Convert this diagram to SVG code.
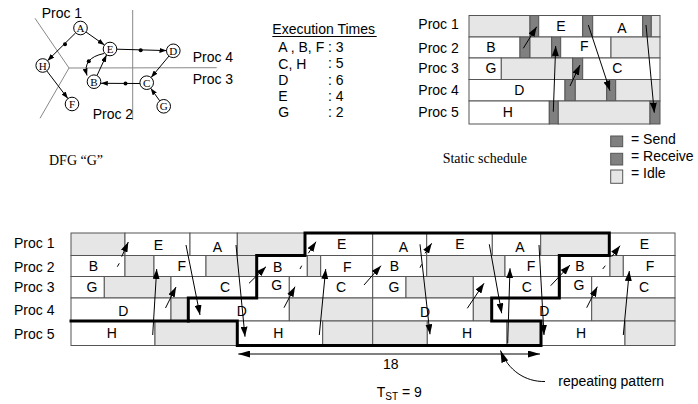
<svg xmlns="http://www.w3.org/2000/svg" width="698" height="404" viewBox="0 0 698 404">
<defs>
<style>
.t{font-family:"Liberation Sans",Arial,Helvetica,sans-serif;font-size:14px;fill:#000}
.m{text-anchor:middle}
.sf{font-family:"Liberation Serif","Times New Roman",serif;fill:#000}
.w{fill:#fff;stroke:#555;stroke-width:1}
.g{fill:#e6e6e6;stroke:#555;stroke-width:1}
.k{fill:#808080;stroke:#555;stroke-width:1}
.ar{fill:none;stroke:#000;stroke-width:1;marker-end:url(#ah)}
.as{fill:none;stroke:#000;stroke-width:1;marker-end:url(#ahs)}
.ln{fill:none;stroke:#000;stroke-width:1}
.pl{fill:none;stroke:#888;stroke-width:1}
.nd{fill:#fff;stroke:#000;stroke-width:1}
.dot{fill:#000}
.thick{fill:none;stroke:#000;stroke-width:3;stroke-linejoin:miter;stroke-linecap:square}
</style>
<marker id="ah" markerUnits="userSpaceOnUse" markerWidth="10" markerHeight="7" refX="10" refY="3.5" orient="auto"><path d="M0,0 L10,3.5 L0,7 z" fill="#000"/></marker>
<marker id="ahs" markerUnits="userSpaceOnUse" markerWidth="7" markerHeight="5" refX="7" refY="2.5" orient="auto"><path d="M0,0 L7,2.5 L0,5 z" fill="#000"/></marker>
<marker id="ahd" markerUnits="userSpaceOnUse" markerWidth="12" markerHeight="7" refX="12" refY="3.5" orient="auto-start-reverse"><path d="M0,0 L12,3.5 L0,7 z" fill="#000"/></marker>
</defs>
<rect width="698" height="404" fill="#fff"/>

<!-- DFG -->
<g id="dfg-partitions">
<path class="pl" d="M35,18.3 L69,68 L40,118.3 M69,68 L216.7,67.7 M132.7,10 L132.7,120"/>
</g>
<g id="dfg-labels" class="t">
<text x="41.7" y="17.5">Proc 1</text>
<text x="192.7" y="61.7">Proc 4</text>
<text x="192.7" y="84">Proc 3</text>
<text x="92.7" y="119.3">Proc 2</text>
</g>
<g id="dfg-connectors">
<path class="as" d="M86,32 L104.5,45"/>
<path class="as" d="M75.7,32.8 L47.5,60.7"/>
<path class="as" d="M46.8,70.9 L67.9,98.6"/>
<path class="as" d="M116.8,49.2 L166.5,50.6"/>
<path class="as" d="M169,56 L151.1,77.5"/>
<path class="as" d="M159.7,100.8 L150.7,88.2"/>
<path class="as" d="M139.9,83.5 L100.8,83.3"/>
<path class="as" d="M97,75.5 L106.5,55"/>
<path class="as" d="M104,53.5 Q82,58 87,75.5"/>
<circle class="dot" cx="65" cy="44.3" r="2"/>
<circle class="dot" cx="140.7" cy="50.3" r="2"/>
<circle class="dot" cx="125.5" cy="83.5" r="2"/>
<circle class="dot" cx="88.8" cy="61.3" r="2"/>
</g>
<g id="node-A"><circle class="nd" cx="80.5" cy="28" r="6.8"/><text class="sf m" x="80.5" y="32" font-size="11">A</text></g>
<g id="node-E"><circle class="nd" cx="110" cy="49" r="6.8"/><text class="sf m" x="110" y="53" font-size="11">E</text></g>
<g id="node-D"><circle class="nd" cx="173.3" cy="50.8" r="6.8"/><text class="sf m" x="173.3" y="54.8" font-size="11">D</text></g>
<g id="node-H"><circle class="nd" cx="42.7" cy="65.5" r="6.8"/><text class="sf m" x="42.7" y="69.5" font-size="11">H</text></g>
<g id="node-B"><circle class="nd" cx="94" cy="81.7" r="6.8"/><text class="sf m" x="94" y="85.7" font-size="11">B</text></g>
<g id="node-C"><circle class="nd" cx="146.7" cy="82.7" r="6.8"/><text class="sf m" x="146.7" y="86.7" font-size="11">C</text></g>
<g id="node-F"><circle class="nd" cx="72" cy="104" r="6.8"/><text class="sf m" x="72" y="108" font-size="11">F</text></g>
<g id="node-G"><circle class="nd" cx="163.7" cy="106.3" r="6.8"/><text class="sf m" x="163.7" y="110.3" font-size="11">G</text></g>
<text class="sf" x="49" y="165" font-size="14">DFG “G”</text>

<!-- Execution times -->
<g id="exec-times" class="t">
<text x="272.3" y="34">Execution Times</text>
<line x1="272.3" y1="36.5" x2="376.7" y2="36.5" stroke="#000" stroke-width="1"/>
<text x="278.3" y="52.3">A , B, F : 3</text>
<text x="278.3" y="68.8">C, H</text><text x="328" y="68.3">: 5</text>
<text x="278.3" y="85">D</text><text x="328" y="85">: 6</text>
<text x="278.3" y="100.8">E</text><text x="328" y="100.8">: 4</text>
<text x="278.3" y="117.3">G</text><text x="328" y="117.3">: 2</text>
</g>

<!-- Static schedule -->
<g id="static-schedule">
<rect class="g" x="469" y="15.5" width="61" height="21.5"/>
<rect class="k" x="530" y="15.5" width="8.7" height="21.5"/>
<rect class="w" x="538.7" y="15.5" width="44" height="21.5"/>
<rect class="k" x="582.7" y="15.5" width="10" height="21.5"/>
<rect class="w" x="592.7" y="15.5" width="50" height="21.5"/>
<rect class="k" x="642.7" y="15.5" width="8.6" height="21.5"/>
<rect class="g" x="651.3" y="15.5" width="8.7" height="21.5"/>

<rect class="w" x="469" y="37" width="51" height="21"/>
<rect class="k" x="520" y="37" width="10" height="21"/>
<rect class="g" x="530" y="37" width="21.7" height="21"/>
<rect class="k" x="551.7" y="37" width="9" height="21"/>
<rect class="w" x="560.7" y="37" width="50.3" height="21"/>
<rect class="g" x="611" y="37" width="49" height="21"/>

<rect class="w" x="469" y="58" width="32.3" height="21.5"/>
<rect class="g" x="501.3" y="58" width="71.4" height="21.5"/>
<rect class="k" x="572.7" y="58" width="10" height="21.5"/>
<rect class="w" x="582.7" y="58" width="77.3" height="21.5"/>

<rect class="w" x="469" y="79.5" width="96" height="21.5"/>
<rect class="k" x="565" y="79.5" width="10.3" height="21.5"/>
<rect class="g" x="575.3" y="79.5" width="31.4" height="21.5"/>
<rect class="k" x="606.7" y="79.5" width="9" height="21.5"/>
<rect class="g" x="615.7" y="79.5" width="44.3" height="21.5"/>

<rect class="w" x="469" y="101" width="80.3" height="23"/>
<rect class="k" x="549.3" y="101" width="9" height="23"/>
<rect class="g" x="558.3" y="101" width="91.7" height="23"/>
<rect class="k" x="650" y="101" width="10" height="23"/>

<path class="ar" d="M523.3,48.3 L536.7,26.7"/>
<path class="ar" d="M553.3,111.7 L555.7,46"/>
<path class="ar" d="M570,86 L580,65"/>
<path class="ar" d="M588.3,25 L610,90.7"/>
<path class="ar" d="M646,25 L654.3,112.7"/>

<g class="t">
<text x="418.3" y="29.3">Proc 1</text>
<text x="418.3" y="52.7">Proc 2</text>
<text x="418.3" y="73.3">Proc 3</text>
<text x="418.3" y="95">Proc 4</text>
<text x="418.3" y="117.3">Proc 5</text>
</g>
<g class="t m">
<text x="561" y="30.7">E</text>
<text x="622" y="33.3">A</text>
<text x="491" y="52.3">B</text>
<text x="584.3" y="50.7">F</text>
<text x="491" y="73.3">G</text>
<text x="617.3" y="72.7">C</text>
<text x="519.3" y="95">D</text>
<text x="507.7" y="116.7">H</text>
</g>
<text class="sf" x="442.7" y="163.3" font-size="14">Static schedule</text>
</g>

<!-- Legend -->
<g id="legend">
<rect class="k" x="610.7" y="136" width="12" height="10.7"/>
<rect class="k" x="610.7" y="153.3" width="12" height="11.7"/>
<rect class="g" x="610.7" y="170" width="12" height="13.3"/>
<g class="t">
<text x="631" y="144">= Send</text>
<text x="631" y="160.7">= Receive</text>
<text x="631" y="178.3">= Idle</text>
</g>
</g>

<!-- Bottom schedule -->
<g id="pipelined-schedule">
<rect class="g" x="71" y="233" width="54" height="22.5"/>
<rect class="w" x="125" y="233" width="65" height="22.5"/>
<rect class="w" x="190" y="233" width="47.3" height="22.5"/>
<rect class="g" x="237.3" y="233" width="67.7" height="22.5"/>
<rect class="w" x="305" y="233" width="67.7" height="22.5"/>
<rect class="w" x="372.7" y="233" width="54" height="22.5"/>
<rect class="w" x="426.7" y="233" width="65.6" height="22.5"/>
<rect class="w" x="492.3" y="233" width="48.4" height="22.5"/>
<rect class="g" x="540.7" y="233" width="68.6" height="22.5"/>
<rect class="w" x="609.3" y="233" width="65.7" height="22.5"/>

<rect class="w" x="71" y="255.5" width="54" height="21"/>
<rect class="g" x="125" y="255.5" width="29" height="21"/>
<rect class="w" x="154" y="255.5" width="52" height="21"/>
<rect class="g" x="206" y="255.5" width="50.7" height="21"/>
<rect class="w" x="256.7" y="255.5" width="50.6" height="21"/>
<rect class="g" x="307.3" y="255.5" width="13.4" height="21"/>
<rect class="w" x="320.7" y="255.5" width="52" height="21"/>
<rect class="w" x="372.7" y="255.5" width="54" height="21"/>
<rect class="g" x="426.7" y="255.5" width="78.3" height="21"/>
<rect class="w" x="505" y="255.5" width="54.3" height="21"/>
<rect class="w" x="559.3" y="255.5" width="50.7" height="21"/>
<rect class="g" x="610" y="255.5" width="13.3" height="21"/>
<rect class="w" x="623.3" y="255.5" width="51.7" height="21"/>

<rect class="w" x="71" y="276.5" width="33.3" height="21.5"/>
<rect class="g" x="104.3" y="276.5" width="66.7" height="21.5"/>
<rect class="w" x="171" y="276.5" width="85.7" height="21.5"/>
<rect class="w" x="256.7" y="276.5" width="32.6" height="21.5"/>
<rect class="w" x="289.3" y="276.5" width="83.4" height="21.5"/>
<rect class="w" x="372.7" y="276.5" width="33.3" height="21.5"/>
<rect class="g" x="406" y="276.5" width="67.3" height="21.5"/>
<rect class="w" x="473.3" y="276.5" width="86.7" height="21.5"/>
<rect class="w" x="560" y="276.5" width="31.7" height="21.5"/>
<rect class="w" x="591.7" y="276.5" width="83.3" height="21.5"/>

<rect class="w" x="71" y="298" width="100" height="23"/>
<rect class="g" x="171" y="298" width="17.3" height="23"/>
<rect class="w" x="188.3" y="298" width="101" height="23"/>
<rect class="g" x="289.3" y="298" width="83.4" height="23"/>
<rect class="w" x="372.7" y="298" width="100.6" height="23"/>
<rect class="g" x="473.3" y="298" width="18.4" height="23"/>
<rect class="w" x="491.7" y="298" width="100" height="23"/>
<rect class="g" x="591.7" y="298" width="83.3" height="23"/>

<rect class="w" x="71" y="321" width="84" height="24.5"/>
<rect class="g" x="155" y="321" width="82.3" height="24.5"/>
<rect class="w" x="237.3" y="321" width="85.4" height="24.5"/>
<rect class="g" x="322.7" y="321" width="50" height="24.5"/>
<rect class="g" x="372.7" y="321" width="54.6" height="24.5"/>
<rect class="w" x="427.3" y="321" width="79.7" height="24.5"/>
<rect class="g" x="507" y="321" width="34" height="24.5"/>
<rect class="w" x="541" y="321" width="84" height="24.5"/>
<rect class="g" x="625" y="321" width="50" height="24.5"/>

<path class="thick" d="M305,233 H609.3 V255.5 H559.3 V298 H491.7 V321 H541 V345.5 H237.3 V321 H188.3 V298 H256.7 V255.5 H305 Z"/>
<path class="thick" d="M71,321 H188.3"/>

<g class="t">
<text x="14" y="247.7">Proc 1</text>
<text x="14" y="271.7">Proc 2</text>
<text x="14" y="291.7">Proc 3</text>
<text x="14" y="315">Proc 4</text>
<text x="14" y="339.3">Proc 5</text>
</g>
<g class="t m">
<text x="158.3" y="250">E</text>
<text x="217.3" y="251.7">A</text>
<text x="341.7" y="249.3">E</text>
<text x="403.3" y="251.7">A</text>
<text x="460" y="249.3">E</text>
<text x="520" y="251.7">A</text>
<text x="644.3" y="249.3">E</text>

<text x="93.3" y="271">B</text>
<text x="181.7" y="271">F</text>
<text x="277.7" y="271.7">B</text>
<text x="347.3" y="271.7">F</text>
<text x="394.3" y="271">B</text>
<text x="531" y="271">F</text>
<text x="580" y="271">B</text>
<text x="650" y="271">F</text>

<text x="92" y="292.3">G</text>
<text x="225" y="291.7">C</text>
<text x="276.7" y="290">G</text>
<text x="341" y="291.7">C</text>
<text x="394" y="292.3">G</text>
<text x="526.7" y="291.7">C</text>
<text x="579" y="290">G</text>
<text x="644" y="291.7">C</text>

<text x="123.3" y="315.7">D</text>
<text x="241.7" y="315.7">D</text>
<text x="425" y="316.7">D</text>
<text x="544.3" y="315.7">D</text>

<text x="111.7" y="337.7">H</text>
<text x="278.3" y="337.7">H</text>
<text x="467" y="337.7">H</text>
<text x="581" y="337.7">H</text>
</g>
</g>

<g id="schedule-connectors">
<path class="ln" d="M117.3,266.7 L119.3,263.3"/>
<path class="ar" d="M121.7,256.7 L128.3,242"/>
<path class="ar" d="M152.7,335 L156.7,269"/>
<path class="ar" d="M165.5,308 L176,287"/>
<path class="ar" d="M186,245 L200,315"/>
<path class="ar" d="M236,245 L245,336.7"/>
<path class="ar" d="M249,283.3 L266,266.7"/>
<path class="ln" d="M300,269 L301.7,265.7"/>
<path class="ar" d="M308.3,253.3 L316,241.7"/>
<path class="ar" d="M284,307.7 L295,286.7"/>
<path class="ar" d="M319.3,335 L325.7,269"/>
<path class="ar" d="M364,285 L381,265.7"/>
<path class="ar" d="M420,244.3 L430,334.3"/>
<path class="ln" d="M420,267.7 L421.7,264.3"/>
<path class="ar" d="M425,253.3 L431.7,243.3"/>
<path class="ar" d="M489.3,244.3 L501.7,313.3"/>
<path class="ar" d="M467.3,308.3 L484,283.3"/>
<path class="ar" d="M507.7,343.3 L510,268.3"/>
<path class="ar" d="M539,245 L544,335"/>
<path class="ar" d="M550.7,285.7 L570,265"/>
<path class="ar" d="M586.7,307.7 L597.3,286.7"/>
<path class="ln" d="M602.7,269 L605.3,265.7"/>
<path class="ar" d="M611.7,256.7 L620,245.7"/>
<path class="ar" d="M623.3,335 L629.3,271"/>

<path d="M238.3,354 H540" fill="none" stroke="#000" stroke-width="1" marker-start="url(#ahd)" marker-end="url(#ahd)"/>
<path d="M545,381.5 C525,382 508,370 500.5,350.5" fill="none" stroke="#000" stroke-width="1" marker-end="url(#ahd)"/>
</g>

<g id="annotations" class="t">
<text class="m" x="390.7" y="369.3">18</text>
<text x="376.7" y="396.7">T<tspan font-size="10" dy="3">ST</tspan><tspan dy="-3"> = 9</tspan></text>
<text x="558.3" y="385.5">repeating pattern</text>
</g>
</svg>
